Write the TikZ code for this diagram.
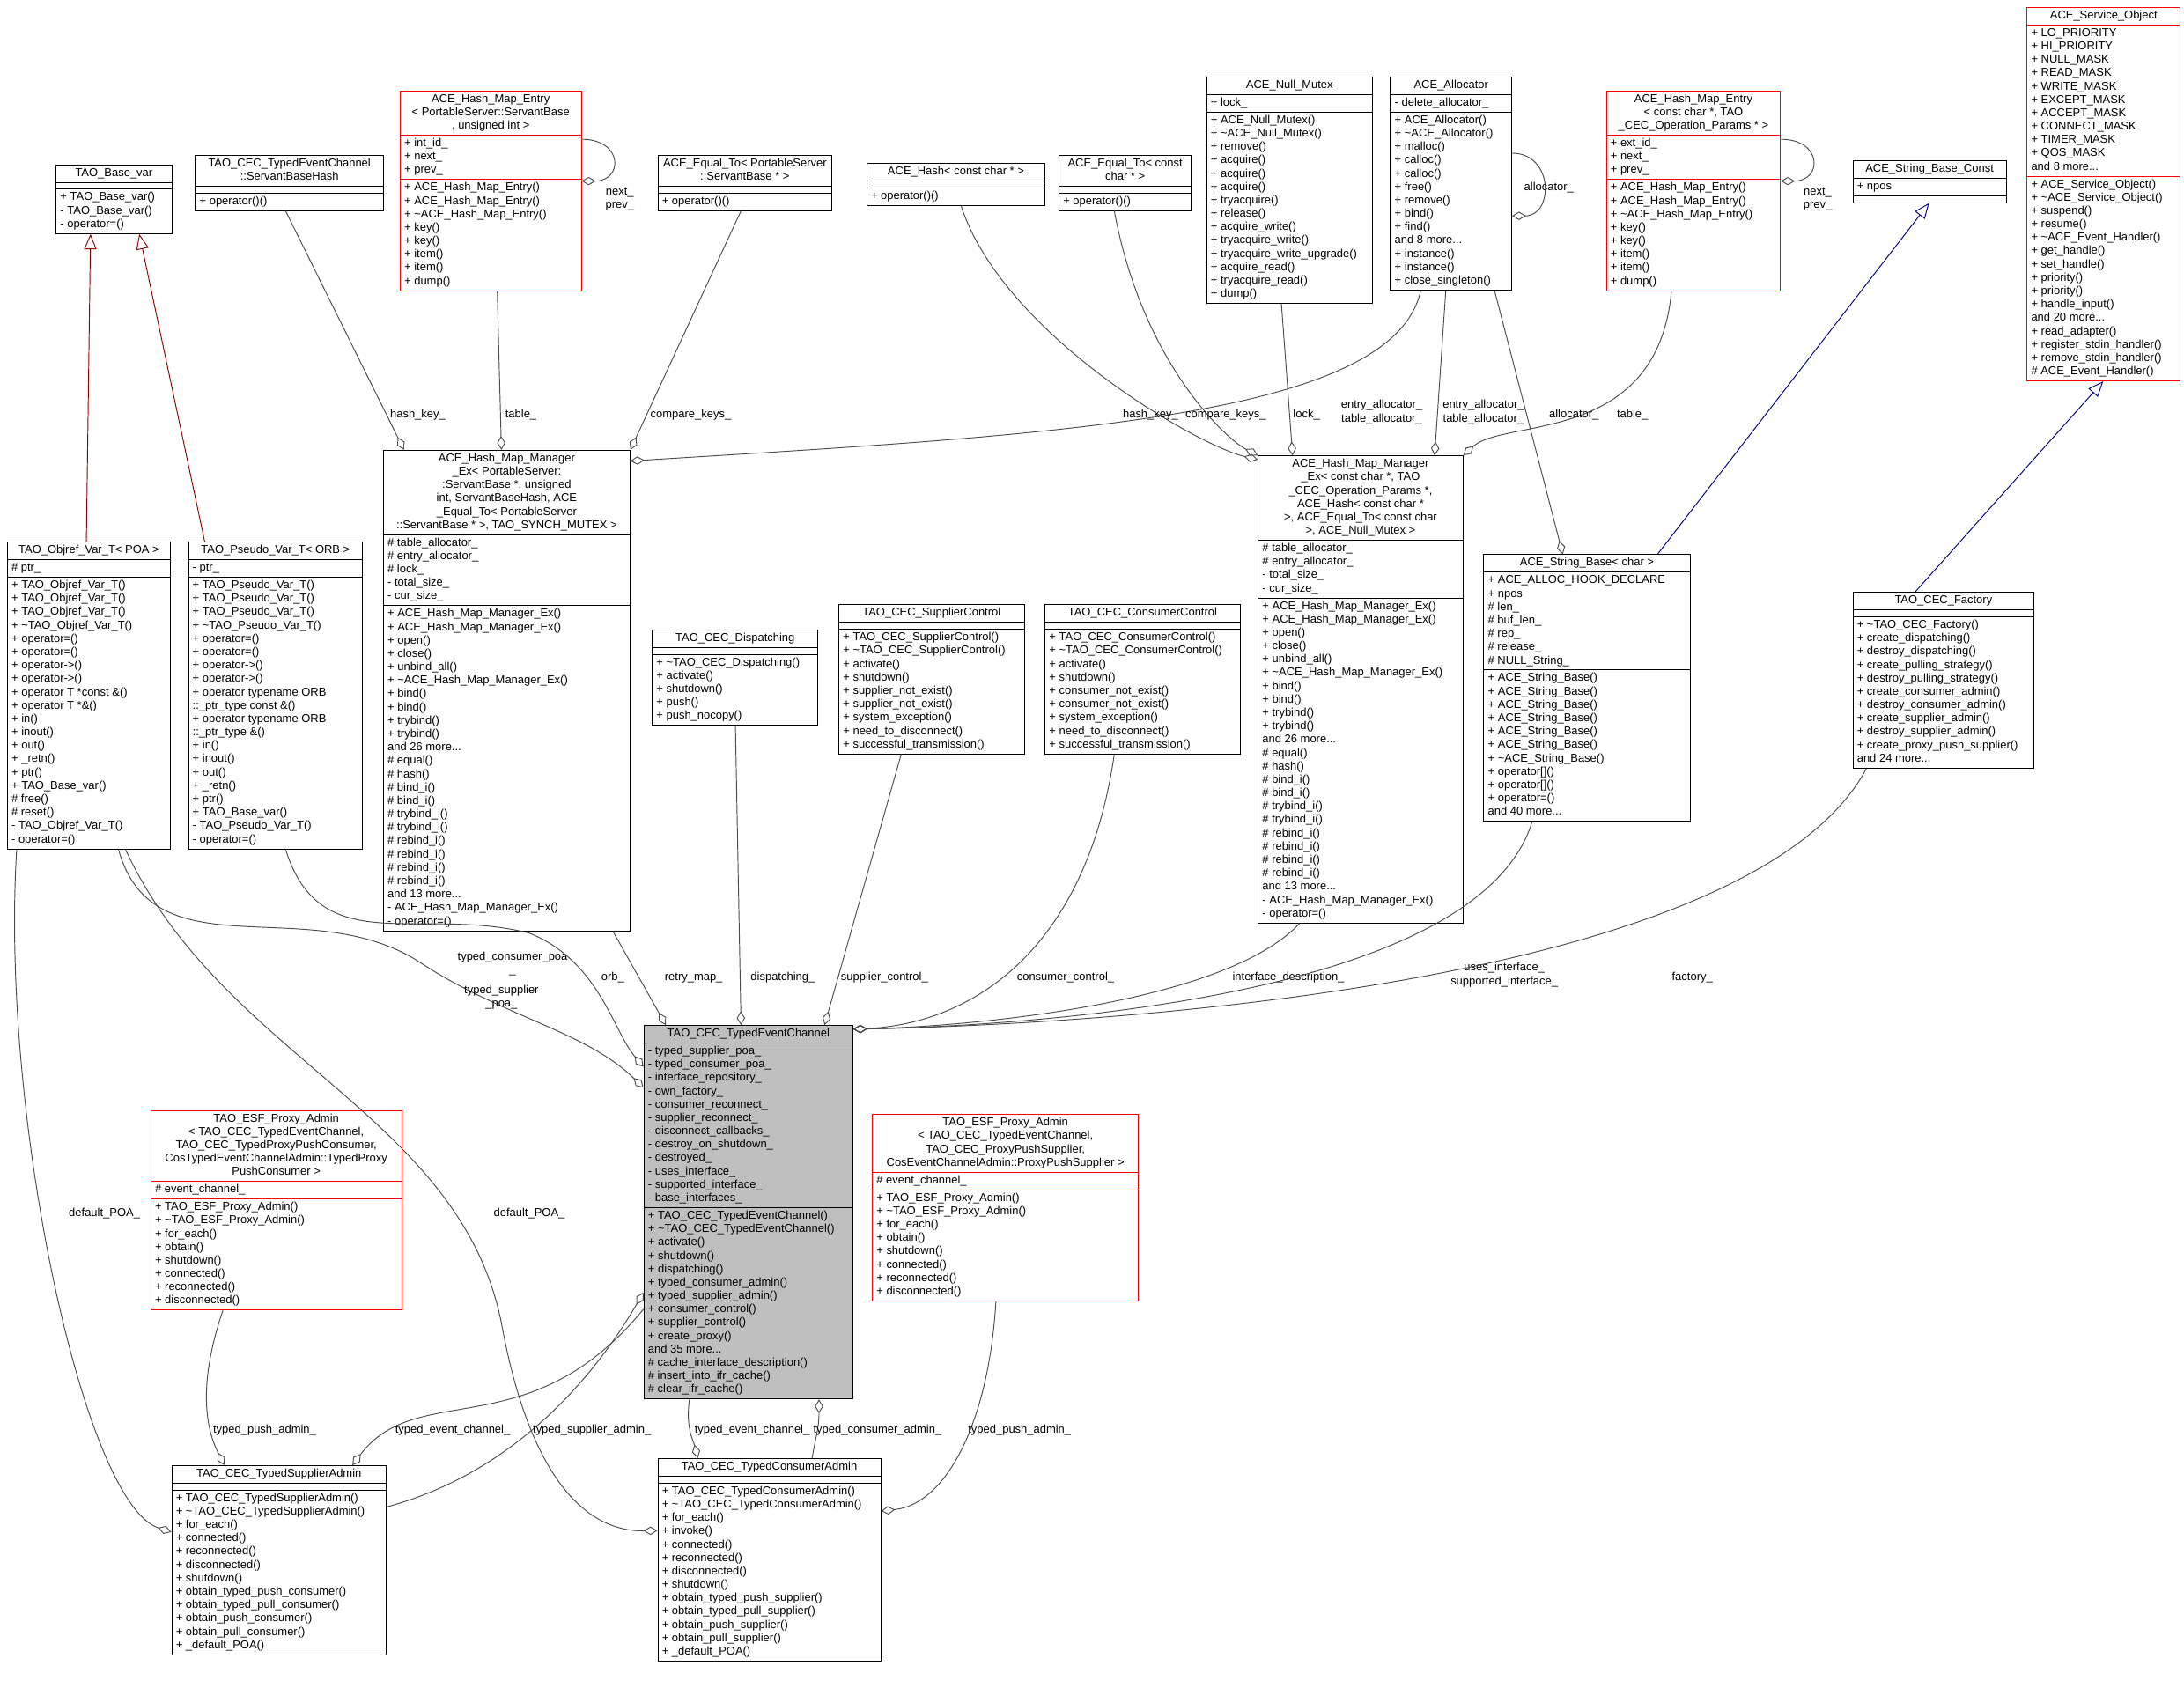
\documentclass[tikz,border=0pt]{standalone}
\usepackage{fontspec}
\setmainfont{Liberation Sans}
\usetikzlibrary{shapes.multipart,arrows.meta}
\newcommand\tl[1]{\begin{tabular}{@{}c@{}}#1\end{tabular}}
\newcommand\ml[1]{\begin{tabular}{@{}l@{}}#1\end{tabular}}
\newcommand\tld{\textasciitilde}
\newcommand\cls[8]{\node[cbox,#8,minimum width=#4pt] (#1) at (#2,#3) {\tl{#5}\nodepart{second}\ml{#6}\nodepart{third}\ml{#7}};}
\tikzset{
 cbox/.style={rectangle split,rectangle split parts=3,draw=black,line width=0.6pt,anchor=north west,
   inner xsep=3pt,inner ysep=1.2pt,rectangle split part align={center,left,left},fill=white},
 redb/.style={draw=red},
 grayb/.style={fill=black!25},
 plain/.style={},
 comp/.style={draw=black!70,line width=0.6pt,-{Diamond[open,length=10pt,width=6pt]}},
 inhr/.style={draw=red!55!black,line width=0.6pt,-{Triangle[open,length=11pt,width=9pt]}},
 inhb/.style={draw=blue!50!black,line width=0.6pt,-{Triangle[open,length=11pt,width=9pt]}},
 lbl/.style={align=center,inner sep=0pt}
}
\begin{document}
\catcode`\_=12
\begin{tikzpicture}[x=1pt,y=-1pt,font=\fontsize{8.2}{9.6}\selectfont]
\useasboundingbox (0,0) rectangle (1568,1212);
% top row
\cls{base}{40}{118}{83}{TAO_Base_var}{}{+ TAO_Base_var()\\- TAO_Base_var()\\- operator=()}{plain}
\cls{sbh}{140}{111}{135}{TAO_CEC_TypedEventChannel\\::ServantBaseHash}{}{+ operator()()}{plain}
\cls{hmeA}{287}{65}{130}{ACE_Hash_Map_Entry\\< PortableServer::ServantBase\\*, unsigned int >}{+ int_id_\\+ next_\\+ prev_}{+ ACE_Hash_Map_Entry()\\+ ACE_Hash_Map_Entry()\\+ \tld ACE_Hash_Map_Entry()\\+ key()\\+ key()\\+ item()\\+ item()\\+ dump()}{redb}
\cls{eqA}{472}{111}{125}{ACE_Equal_To< PortableServer\\::ServantBase * >}{}{+ operator()()}{plain}
\cls{hash}{622}{117}{128}{ACE_Hash< const char * >}{}{+ operator()()}{plain}
\cls{eqB}{760}{111}{95}{ACE_Equal_To< const\\char * >}{}{+ operator()()}{plain}
\cls{nullm}{866}{55}{119}{ACE_Null_Mutex}{+ lock_}{+ ACE_Null_Mutex()\\+ \tld ACE_Null_Mutex()\\+ remove()\\+ acquire()\\+ acquire()\\+ acquire()\\+ tryacquire()\\+ release()\\+ acquire_write()\\+ tryacquire_write()\\+ tryacquire_write_upgrade()\\+ acquire_read()\\+ tryacquire_read()\\+ dump()}{plain}
\cls{alloc}{998}{55}{87}{ACE_Allocator}{- delete_allocator_}{+ ACE_Allocator()\\+ \tld ACE_Allocator()\\+ malloc()\\+ calloc()\\+ calloc()\\+ free()\\+ remove()\\+ bind()\\+ find()\\and 8 more...\\+ instance()\\+ instance()\\+ close_singleton()}{plain}
\cls{hmeB}{1153}{65}{125}{ACE_Hash_Map_Entry\\< const char *, TAO\\_CEC_Operation_Params * >}{+ ext_id_\\+ next_\\+ prev_}{+ ACE_Hash_Map_Entry()\\+ ACE_Hash_Map_Entry()\\+ \tld ACE_Hash_Map_Entry()\\+ key()\\+ key()\\+ item()\\+ item()\\+ dump()}{redb}
\cls{sbc}{1330}{115}{110}{ACE_String_Base_Const}{+ npos}{}{plain}
\cls{svc}{1455}{5}{110}{ACE_Service_Object}{+ LO_PRIORITY\\+ HI_PRIORITY\\+ NULL_MASK\\+ READ_MASK\\+ WRITE_MASK\\+ EXCEPT_MASK\\+ ACCEPT_MASK\\+ CONNECT_MASK\\+ TIMER_MASK\\+ QOS_MASK\\and 8 more...}{+ ACE_Service_Object()\\+ \tld ACE_Service_Object()\\+ suspend()\\+ resume()\\+ \tld ACE_Event_Handler()\\+ get_handle()\\+ set_handle()\\+ priority()\\+ priority()\\+ handle_input()\\and 20 more...\\+ read_adapter()\\+ register_stdin_handler()\\+ remove_stdin_handler()\\\# ACE_Event_Handler()}{redb}
% middle row
\cls{objref}{5}{389}{117}{TAO_Objref_Var_T< POA >}{\# ptr_}{+ TAO_Objref_Var_T()\\+ TAO_Objref_Var_T()\\+ TAO_Objref_Var_T()\\+ \tld TAO_Objref_Var_T()\\+ operator=()\\+ operator=()\\+ operator->()\\+ operator->()\\+ operator T *const \&()\\+ operator T *\&()\\+ in()\\+ inout()\\+ out()\\+ _retn()\\+ ptr()\\+ TAO_Base_var()\\\# free()\\\# reset()\\- TAO_Objref_Var_T()\\- operator=()}{plain}
\cls{pseudo}{135}{389}{125}{TAO_Pseudo_Var_T< ORB >}{- ptr_}{+ TAO_Pseudo_Var_T()\\+ TAO_Pseudo_Var_T()\\+ TAO_Pseudo_Var_T()\\+ \tld TAO_Pseudo_Var_T()\\+ operator=()\\+ operator=()\\+ operator->()\\+ operator->()\\+ operator typename ORB\\::_ptr_type const \&()\\+ operator typename ORB\\::_ptr_type \&()\\+ in()\\+ inout()\\+ out()\\+ _retn()\\+ ptr()\\+ TAO_Base_var()\\- TAO_Pseudo_Var_T()\\- operator=()}{plain}
\cls{hmmA}{275}{323}{177}{ACE_Hash_Map_Manager\\_Ex< PortableServer:\\:ServantBase *, unsigned\\int, ServantBaseHash, ACE\\_Equal_To< PortableServer\\::ServantBase * >, TAO_SYNCH_MUTEX >}{\# table_allocator_\\\# entry_allocator_\\\# lock_\\- total_size_\\- cur_size_}{+ ACE_Hash_Map_Manager_Ex()\\+ ACE_Hash_Map_Manager_Ex()\\+ open()\\+ close()\\+ unbind_all()\\+ \tld ACE_Hash_Map_Manager_Ex()\\+ bind()\\+ bind()\\+ trybind()\\+ trybind()\\and 26 more...\\\# equal()\\\# hash()\\\# bind_i()\\\# bind_i()\\\# trybind_i()\\\# trybind_i()\\\# rebind_i()\\\# rebind_i()\\\# rebind_i()\\\# rebind_i()\\and 13 more...\\- ACE_Hash_Map_Manager_Ex()\\- operator=()}{plain}
\cls{disp}{468}{452}{119}{TAO_CEC_Dispatching}{}{+ \tld TAO_CEC_Dispatching()\\+ activate()\\+ shutdown()\\+ push()\\+ push_nocopy()}{plain}
\cls{supc}{602}{434}{133}{TAO_CEC_SupplierControl}{}{+ TAO_CEC_SupplierControl()\\+ \tld TAO_CEC_SupplierControl()\\+ activate()\\+ shutdown()\\+ supplier_not_exist()\\+ supplier_not_exist()\\+ system_exception()\\+ need_to_disconnect()\\+ successful_transmission()}{plain}
\cls{conc}{750}{434}{140}{TAO_CEC_ConsumerControl}{}{+ TAO_CEC_ConsumerControl()\\+ \tld TAO_CEC_ConsumerControl()\\+ activate()\\+ shutdown()\\+ consumer_not_exist()\\+ consumer_not_exist()\\+ system_exception()\\+ need_to_disconnect()\\+ successful_transmission()}{plain}
\cls{hmmB}{903}{327}{147}{ACE_Hash_Map_Manager\\_Ex< const char *, TAO\\_CEC_Operation_Params *,\\ACE_Hash< const char *\\>, ACE_Equal_To< const char\\* >, ACE_Null_Mutex >}{\# table_allocator_\\\# entry_allocator_\\- total_size_\\- cur_size_}{+ ACE_Hash_Map_Manager_Ex()\\+ ACE_Hash_Map_Manager_Ex()\\+ open()\\+ close()\\+ unbind_all()\\+ \tld ACE_Hash_Map_Manager_Ex()\\+ bind()\\+ bind()\\+ trybind()\\+ trybind()\\and 26 more...\\\# equal()\\\# hash()\\\# bind_i()\\\# bind_i()\\\# trybind_i()\\\# trybind_i()\\\# rebind_i()\\\# rebind_i()\\\# rebind_i()\\\# rebind_i()\\and 13 more...\\- ACE_Hash_Map_Manager_Ex()\\- operator=()}{plain}
\cls{strb}{1065}{398}{148}{ACE_String_Base< char >}{+ ACE_ALLOC_HOOK_DECLARE\\+ npos\\\# len_\\\# buf_len_\\\# rep_\\\# release_\\\# NULL_String_}{+ ACE_String_Base()\\+ ACE_String_Base()\\+ ACE_String_Base()\\+ ACE_String_Base()\\+ ACE_String_Base()\\+ ACE_String_Base()\\+ \tld ACE_String_Base()\\+ operator[]()\\+ operator[]()\\+ operator=()\\and 40 more...}{plain}
\cls{fact}{1330}{425}{130}{TAO_CEC_Factory}{}{+ \tld TAO_CEC_Factory()\\+ create_dispatching()\\+ destroy_dispatching()\\+ create_pulling_strategy()\\+ destroy_pulling_strategy()\\+ create_consumer_admin()\\+ destroy_consumer_admin()\\+ create_supplier_admin()\\+ destroy_supplier_admin()\\+ create_proxy_push_supplier()\\and 24 more...}{plain}
% channel
\cls{tec}{462}{736}{150}{TAO_CEC_TypedEventChannel}{- typed_supplier_poa_\\- typed_consumer_poa_\\- interface_repository_\\- own_factory_\\- consumer_reconnect_\\- supplier_reconnect_\\- disconnect_callbacks_\\- destroy_on_shutdown_\\- destroyed_\\- uses_interface_\\- supported_interface_\\- base_interfaces_}{+ TAO_CEC_TypedEventChannel()\\+ \tld TAO_CEC_TypedEventChannel()\\+ activate()\\+ shutdown()\\+ dispatching()\\+ typed_consumer_admin()\\+ typed_supplier_admin()\\+ consumer_control()\\+ supplier_control()\\+ create_proxy()\\and 35 more...\\\# cache_interface_description()\\\# insert_into_ifr_cache()\\\# clear_ifr_cache()}{grayb}
\cls{esfA}{108}{797}{180}{TAO_ESF_Proxy_Admin\\< TAO_CEC_TypedEventChannel,\\TAO_CEC_TypedProxyPushConsumer,\\CosTypedEventChannelAdmin::TypedProxy\\PushConsumer >}{\# event_channel_}{+ TAO_ESF_Proxy_Admin()\\+ \tld TAO_ESF_Proxy_Admin()\\+ for_each()\\+ obtain()\\+ shutdown()\\+ connected()\\+ reconnected()\\+ disconnected()}{redb}
\cls{esfB}{626}{800}{191}{TAO_ESF_Proxy_Admin\\< TAO_CEC_TypedEventChannel,\\TAO_CEC_ProxyPushSupplier,\\CosEventChannelAdmin::ProxyPushSupplier >}{\# event_channel_}{+ TAO_ESF_Proxy_Admin()\\+ \tld TAO_ESF_Proxy_Admin()\\+ for_each()\\+ obtain()\\+ shutdown()\\+ connected()\\+ reconnected()\\+ disconnected()}{redb}
\cls{sadm}{123}{1052}{154}{TAO_CEC_TypedSupplierAdmin}{}{+ TAO_CEC_TypedSupplierAdmin()\\+ \tld TAO_CEC_TypedSupplierAdmin()\\+ for_each()\\+ connected()\\+ reconnected()\\+ disconnected()\\+ shutdown()\\+ obtain_typed_push_consumer()\\+ obtain_typed_pull_consumer()\\+ obtain_push_consumer()\\+ obtain_pull_consumer()\\+ _default_POA()}{plain}
\cls{cadm}{472}{1047}{160}{TAO_CEC_TypedConsumerAdmin}{}{+ TAO_CEC_TypedConsumerAdmin()\\+ \tld TAO_CEC_TypedConsumerAdmin()\\+ for_each()\\+ invoke()\\+ connected()\\+ reconnected()\\+ disconnected()\\+ shutdown()\\+ obtain_typed_push_supplier()\\+ obtain_typed_pull_supplier()\\+ obtain_push_supplier()\\+ obtain_pull_supplier()\\+ _default_POA()}{plain}
% inheritance
\draw[inhr] ([xshift=57]objref.north west) -- ([xshift=25]base.south west);
\draw[inhr] ([xshift=12]pseudo.north west) -- ([xshift=60]base.south west);
\draw[inhb] ([xshift=125]strb.north west) -- ([xshift=55]sbc.south west);
\draw[inhb] ([xshift=45]fact.north west) -- ([xshift=55]svc.south west);
% self loops
\draw[comp] ([yshift=-35]hmeA.north east) .. controls +(30,0) and +(30,0) .. ([yshift=-65]hmeA.north east);
\node[lbl] (l1) at (445,143) {next_\\prev_};
\draw[comp] ([yshift=-55]alloc.north east) .. controls +(30,0) and +(30,0) .. ([yshift=-100]alloc.north east);
\node[lbl] (l2) at (1112,135) {allocator_};
\draw[comp] ([yshift=-35]hmeB.north east) .. controls +(30,0) and +(30,0) .. ([yshift=-65]hmeB.north east);
\node[lbl] (l3) at (1305,143) {next_\\prev_};
% into hmmA
\draw[comp] ([xshift=65]sbh.south west) -- ([xshift=15]hmmA.north west);
\node[lbl] (l4) at (300,298) {hash_key_};
\draw[comp] ([xshift=70]hmeA.south west) -- ([xshift=85]hmmA.north west);
\node[lbl] (l5) at (374,298) {table_};
\draw[comp] ([xshift=60]eqA.south west) -- (hmmA.north east);
\node[lbl] (l6) at (496,298) {compare_keys_};
\draw[comp] ([xshift=22]alloc.south west) .. controls (1000,300) and (760,312) .. ([yshift=-8]hmmA.north east);
\node[lbl] (l7) at (992,296) {entry_allocator_\\table_allocator_};
% into hmmB
\draw[comp] ([xshift=68]hash.south west) .. controls (720,240) and (860,320) .. ([yshift=-3]hmmB.north west);
\node[lbl] (l8) at (826,298) {hash_key_};
\draw[comp] ([xshift=40]eqB.south west) .. controls (820,260) and (880,315) .. (hmmB.north west);
\node[lbl] (l9) at (880,298) {compare_keys_};
\draw[comp] ([xshift=54]nullm.south west) -- ([xshift=25]hmmB.north west);
\node[lbl] (l10) at (938,298) {lock_};
\draw[comp] ([xshift=40]alloc.south west) -- ([xshift=127]hmmB.north west);
\node[lbl] (l11) at (1065,296) {entry_allocator_\\table_allocator_};
\draw[comp] ([xshift=47]hmeB.south west) .. controls (1190,320) and (1080,300) .. (hmmB.north east);
\node[lbl] (l12) at (1172,298) {table_};
\draw[comp] ([xshift=75]alloc.south west) -- ([xshift=57]strb.north west);
\node[lbl] (l13) at (1130,298) {allocator_};
% into tec
\draw[comp] ([xshift=80]objref.south west) .. controls (110,700) and (220,640) .. (300,690) .. controls (360,730) and (420,740) .. ([yshift=-45]tec.north west);
\node[lbl] (l14) at (368,692) {typed_consumer_poa\\_};
\node[lbl] (l15) at (360,716) {typed_supplier\\_poa_};
\draw[comp] ([xshift=70]pseudo.south west) .. controls (230,690) and (300,650) .. (380,670) .. controls (430,690) and (440,740) .. ([yshift=-30]tec.north west);
\node[lbl] (l16) at (440,702) {orb_};
\draw[comp] ([xshift=165]hmmA.south west) -- ([xshift=16]tec.north west);
\node[lbl] (l17) at (498,702) {retry_map_};
\draw[comp] ([xshift=60]disp.south west) -- ([xshift=70]tec.north west);
\node[lbl] (l18) at (562,702) {dispatching_};
\draw[comp] ([xshift=45]supc.south west) -- ([xshift=130]tec.north west);
\node[lbl] (l19) at (635,702) {supplier_control_};
\draw[comp] ([xshift=50]conc.south west) .. controls (780,680) and (700,735) .. ([yshift=-3]tec.north east);
\node[lbl] (l20) at (765,702) {consumer_control_};
\draw[comp] ([xshift=30]hmmB.south west) .. controls (880,720) and (700,737) .. ([yshift=-3]tec.north east);
\node[lbl] (l21) at (925,702) {interface_description_};
\draw[comp] ([xshift=35]strb.south west) .. controls (1060,720) and (720,737) .. ([yshift=-3]tec.north east);
\node[lbl] (l22) at (1080,700) {uses_interface_\\supported_interface_};
\draw[comp] ([xshift=10]fact.south west) .. controls (1250,720) and (720,737) .. ([yshift=-3]tec.north east);
\node[lbl] (l23) at (1215,702) {factory_};
% admins
\draw[comp] ([xshift=7]objref.south west) .. controls (0,800) and (60,1080) .. ([yshift=-48]sadm.north west);
\node[lbl] (l24) at (75,871) {default_POA_};
\draw[comp] ([xshift=85]objref.south west) .. controls (160,760) and (330,800) .. (360,950) .. controls (380,1060) and (420,1100) .. ([yshift=-52]cadm.north west);
\node[lbl] (l25) at (380,871) {default_POA_};
\draw[comp] ([xshift=52]esfA.south west) .. controls (140,1000) and (150,1030) .. ([xshift=38]sadm.north west);
\node[lbl] (l26) at (190,1027) {typed_push_admin_};
\draw[comp] ([yshift=-204]tec.north west) .. controls (380,1040) and (300,990) .. ([xshift=130]sadm.north west);
\node[lbl] (l27) at (325,1027) {typed_event_channel_};
\draw[comp] ([yshift=-30]sadm.north east) .. controls (360,1060) and (420,1000) .. ([yshift=-192]tec.north west);
\node[lbl] (l28) at (425,1027) {typed_supplier_admin_};
\draw[comp] ([xshift=33]tec.south west) .. controls (492,1025) and (498,1035) .. ([xshift=29]cadm.north west);
\node[lbl] (l29) at (540,1027) {typed_event_channel_};
\draw[comp] ([xshift=111]cadm.north west) .. controls (586,1030) and (588,1025) .. ([xshift=126]tec.south west);
\node[lbl] (l30) at (630,1027) {typed_consumer_admin_};
\draw[comp] ([xshift=89]esfB.south west) .. controls (710,1020) and (680,1080) .. ([yshift=-38]cadm.north east);
\node[lbl] (l31) at (732,1027) {typed_push_admin_};
\end{tikzpicture}
\end{document}
